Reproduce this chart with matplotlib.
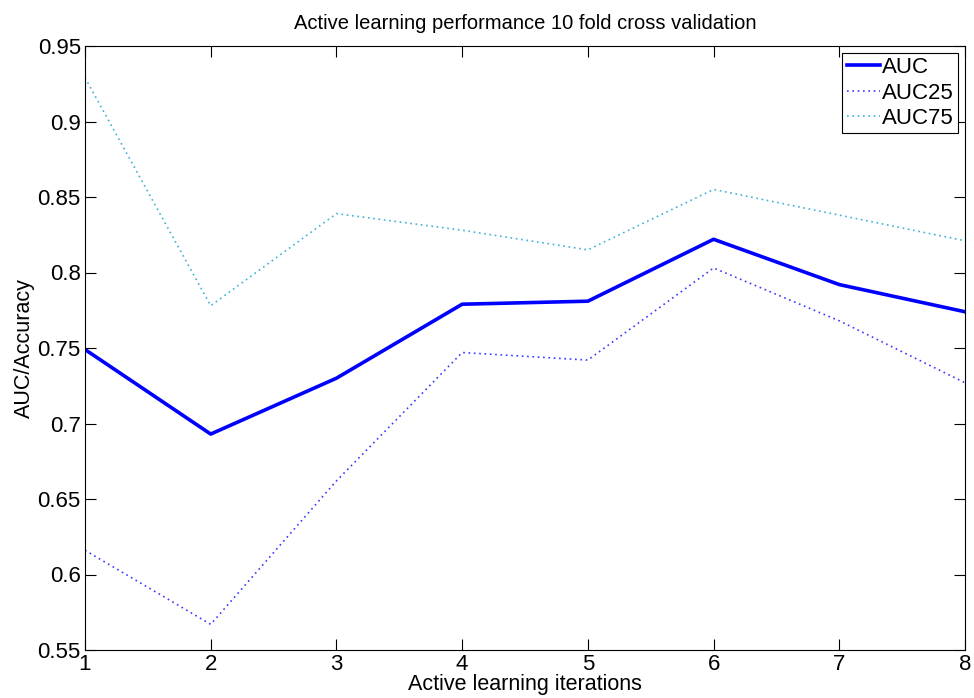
import numpy as np
import matplotlib
matplotlib.use("Agg")
import matplotlib.pyplot as plt

plt.rcParams['font.family'] = ['Liberation Sans', 'DejaVu Sans']

iterations = [1, 2, 3, 4, 5, 6, 7, 8]
auc = [0.749, 0.693, 0.730, 0.779, 0.781, 0.822, 0.792, 0.774]
auc25 = [0.616, 0.567, 0.662, 0.747, 0.742, 0.803, 0.768, 0.727]
auc75 = [0.929, 0.778, 0.839, 0.828, 0.815, 0.855, 0.838, 0.821]

fig = plt.figure(figsize=(9.74, 6.98), dpi=100)
ax = fig.add_axes([85/974, 48/698, 880/974, 604/698])

ax.plot(iterations, auc, color='#0000ff', lw=2.6, label='AUC')
ax.plot(iterations, auc25, color='#3a3aff', lw=1.2, ls=(0, (1, 2.2)), label='AUC25')
ax.plot(iterations, auc75, color='#3fb2d6', lw=1.2, ls=(0, (1, 2.2)), label='AUC75')

ax.set_xlim(1, 8)
ax.set_ylim(0.55, 0.95)
ax.set_xticks(iterations)
ax.set_yticks(np.arange(0.55, 0.951, 0.05))
ax.set_yticklabels(['0.55', '0.6', '0.65', '0.7', '0.75', '0.8', '0.85', '0.9', '0.95'])
ax.tick_params(direction='in', top=True, right=True, length=8, labelsize=16, pad=3)
for s in ax.spines.values():
    s.set_linewidth(0.8)

ax.set_title('Active learning performance 10 fold cross validation', fontsize=14.5, pad=12)
ax.set_xlabel('Active learning iterations', fontsize=15.5, labelpad=-1)
ax.set_ylabel('AUC/Accuracy', fontsize=15.5, labelpad=2)

leg = ax.legend(loc='upper right', fontsize=16, fancybox=False, framealpha=1,
                edgecolor='black', borderpad=0.2, handlelength=1.5,
                handletextpad=0.1, labelspacing=0.2, borderaxespad=0.3)
leg.get_frame().set_linewidth(0.8)

fig.savefig('out.png', dpi=100)
